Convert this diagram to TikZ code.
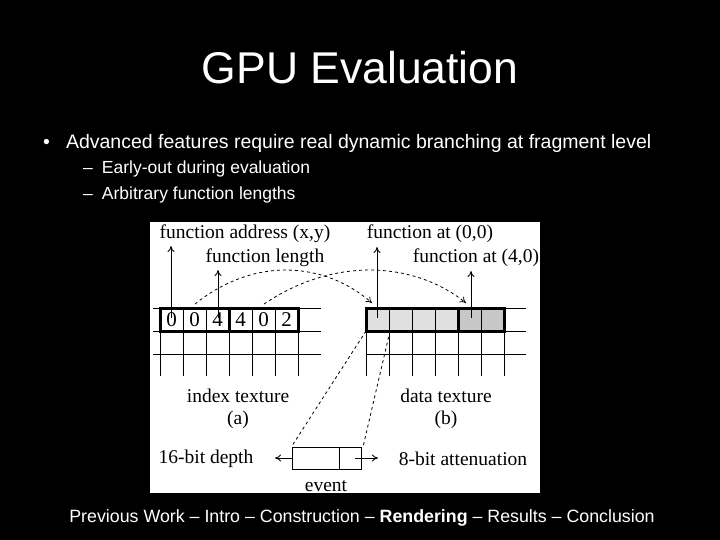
\documentclass[tikz,border=0pt]{standalone}
\usepackage{fontspec}
\setmainfont{Liberation Sans}
\newfontfamily\figfont{Liberation Serif}
\usetikzlibrary{positioning,arrows.meta}

\begin{document}
\begin{tikzpicture}[x=1pt, y=-1pt,
    every node/.style={text=white, inner sep=0pt},
    figtext/.style={text=black, font=\figfont\fontsize{19.5}{19.5}\selectfont},
    cellnum/.style={text=black, font=\figfont\fontsize{21}{21}\selectfont, minimum width=23pt, minimum height=23pt},
    gridline/.style={line width=0.9pt},
    boxline/.style={line width=3pt},
    dashline/.style={dashed, line width=0.8pt},
    upline/.style={-{To[length=6pt,width=7pt]}, line width=0.9pt},
    ]
  \useasboundingbox[fill=black] (0,0) rectangle (720,540);
  \fill[white] (150,222) rectangle (540,493);

  % slide text
  \node (title) at (360,68) {\fontsize{44.5}{44.5}\selectfont GPU Evaluation};
  \node[anchor=west] (b1) at (43,143) {\fontsize{19.5}{19.5}\selectfont \textbullet\hspace{16pt}Advanced features require real dynamic branching at fragment level};
  \node[anchor=west] (b2) at (83,169) {\fontsize{17.5}{17.5}\selectfont --\hspace{9pt}Early-out during evaluation};
  \node[anchor=west] (b3) at (83,195) {\fontsize{17.5}{17.5}\selectfont --\hspace{9pt}Arbitrary function lengths};
  \node (foot) at (362,518) {\fontsize{17.8}{17.8}\selectfont Previous Work -- Intro -- Construction -- \textbf{Rendering} -- Results -- Conclusion};

  % index texture grid
  \foreach \y in {308,331,354} \draw[gridline] (153,\y) -- (321,\y);
  \foreach \x in {160,183,...,298} \draw[gridline] (\x,308) -- (\x,376);
  \foreach \v [count=\i from 0] in {0,0,4,4,0,2}
    \node[cellnum, anchor=north west] (ix\i) at (160+23*\i,308) {\v};
  \draw[boxline] (160,308) rectangle (229,331);
  \draw[boxline] (229,308) rectangle (298,331);

  % data texture grid
  \fill[black!12] (366,308) rectangle (458,331);
  \fill[black!22] (458,308) rectangle (504,331);
  \foreach \y in {308,331,354} \draw[gridline] (366,\y) -- (526,\y);
  \foreach \x in {366,389,...,504} \draw[gridline] (\x,308) -- (\x,376);
  \draw[boxline] (366,308) rectangle (458,331);
  \draw[boxline] (458,308) rectangle (504,331);

  % labels
  \node[figtext] (addr) at (245,234) {function address (x,y)};
  \node[figtext] (flen) at (265,258) {function length};
  \node[figtext] (f00) at (430,234) {function at (0,0)};
  \node[figtext] (f40) at (476,258) {function at (4,0)};
  \node[figtext] (itex) at (238,396) {index texture};
  \node[figtext] (ia) at (238,420) {(a)};
  \node[figtext] (dtex) at (446,396) {data texture};
  \node[figtext] (db) at (446,420) {(b)};

  \draw[upline] (171,318) -- (171,246);
  \draw[upline] (218,318) -- (218,270);
  \draw[upline] (377,318) -- (377,247);
  \draw[upline] (471,318) -- (471,271);

  \draw[dashline, -{To[length=6pt,width=7pt]}] (195,304) .. controls (255,256) and (325,262) .. (372,303);
  \draw[dashline, -{To[length=6pt,width=7pt]}] (264,304) .. controls (335,256) and (415,262) .. (466,303);

  % event
  \node[draw=black, line width=0.9pt, minimum width=69pt, minimum height=22pt] (event) at (326.5,458) {};
  \draw[gridline] (339,447) -- (339,469);
  \node[figtext] (evlbl) at (326,486) {event};
  \node[figtext] (depth) at (206,459) {16-bit depth};
  \node[figtext] (atten) at (463,459) {8-bit attenuation};
  \draw[upline] (event.west) -- (275,458);
  \draw[upline] (355,458) -- (378,458);
  \draw[dashline] (366,331) -- (event.north west);
  \draw[dashline] (390,331) -- (363,447);
\end{tikzpicture}
\end{document}
